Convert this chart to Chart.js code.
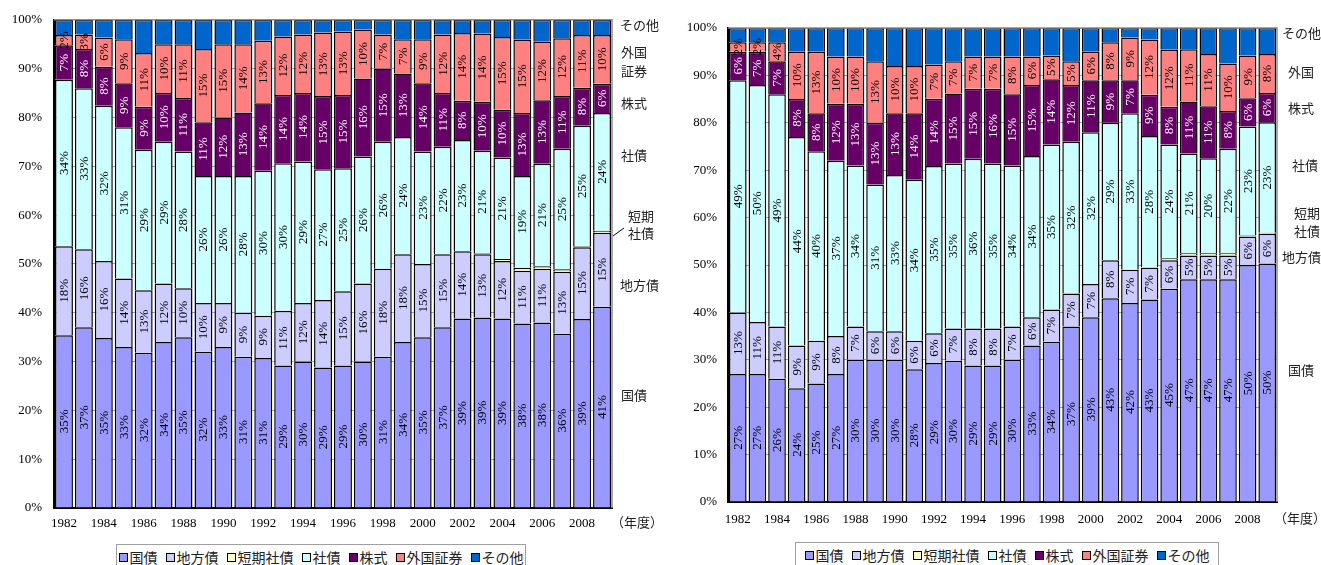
<!DOCTYPE html>
<html>
<head>
<meta charset="utf-8">
<script src="https://cdn.jsdelivr.net/npm/chart.js@4.4.0/dist/chart.umd.min.js"></script>
<style>
  html, body { margin: 0; padding: 0; background: #fff; }
  body { width: 1321px; height: 565px; overflow: hidden; position: relative; font-family: "Noto Sans CJK JP", sans-serif; }
  .panel { position: absolute; top: 0; }
  .legend { position: absolute; height: 26px; border: 1px solid #a0a0a0; background: #fff; box-sizing: border-box;
            display: flex; align-items: center; justify-content: center; white-space: nowrap; font-size: 14px; color: #222; }
  .legend .item { display: inline-flex; align-items: center; margin: 0 4px; }
  .legend .sw { display: inline-block; width: 7px; height: 7px; border: 1px solid #000; margin-right: 2px; }
</style>
</head>
<body>
<div class="panel" style="left:0px"><canvas id="chartA" width="680" height="540"></canvas></div>
<div class="panel" style="left:680px"><canvas id="chartB" width="641" height="540"></canvas></div>
<div class="legend" id="legendA" style="left:116px; top:544px; width:410px;"></div>
<div class="legend" id="legendB" style="left:795px; top:542px; width:424px;"></div>
<script>
// Fiscal years on the category axis
const years = [1982, 1983, 1984, 1985, 1986, 1987, 1988, 1989, 1990, 1991, 1992, 1993, 1994, 1995,
               1996, 1997, 1998, 1999, 2000, 2001, 2002, 2003, 2004, 2005, 2006, 2007, 2008, 2009];

// Asset classes, bottom to top of each bar
const seriesNames = ['国債', '地方債', '短期社債', '社債', '株式', '外国証券', 'その他'];
const seriesColors = ['#9999FF', '#CCCCFF', '#FFFFCC', '#CCFFFF', '#660066', '#FF8080', '#0066CC'];

// Y axis ticks (percent of total)
const yTicks = [0, 10, 20, 30, 40, 50, 60, 70, 80, 90, 100];

// ---- Portfolio A (left) : shares in %, by fiscal year ----
const aGovBonds       = [35.4, 37, 34.8, 33, 31.8, 34, 35, 32, 33, 31, 30.7, 29.2, 30, 28.8, 29.2, 30, 31, 34, 35, 37, 38.8, 39, 38.8, 37.8, 38, 35.7, 38.7, 41.2];
const aLocalBonds     = [18.2, 16, 15.8, 14, 12.8, 12, 10, 10, 9, 9, 8.7, 11.2, 12, 13.8, 15.2, 16, 18, 18, 15, 15, 13.8, 13, 11.8, 10.8, 11, 12.7, 14.7, 15.2];
const aShortCorpBonds = [null, null, null, null, null, null, null, null, null, null, null, null, null, null,
                         null, null, null, null, null, null, null, 0.2, 0.4, 0.6, 0.5, 0.5, 0.2, 0.4];
const aCorpBonds      = [34.1, 33, 31.8, 31, 28.8, 29, 28, 26, 26, 28, 29.7, 30.2, 29, 26.8, 25.2, 26, 26, 24, 23, 22, 22.8, 21, 20.8, 18.8, 21, 24.7, 24.7, 24.1];
const aStocks         = [7.1, 8, 8, 9, 8.8, 10, 11, 11, 12, 13, 13.8, 14, 14, 15, 15, 16, 15, 13, 14, 11, 8, 10, 9.8, 12.9, 13, 10.8, 7.8, 6];
const aForeign        = [2.1, 3, 6, 9, 11, 10, 11, 15, 15, 14, 12.8, 12, 12, 13, 13, 10, 7, 7, 9, 12, 13.9, 14, 14.9, 15, 12, 11.8, 10.8, 10];
const aOther          = [3.1, 3, 3.6, 4, 6.8, 5, 5, 6, 5, 5, 4.3, 3.4, 3, 2.6, 2.4, 2, 3, 4, 4, 3, 2.7, 2.8, 3.5, 4.1, 4.5, 3.8, 3.1, 3.1];

// ---- Portfolio B (right) : shares in %, by fiscal year ----
const bGovBonds       = [27, 27, 26, 24, 25, 27, 30, 30, 30, 28, 29.3, 29.8, 28.8, 28.8, 30, 33, 33.8, 37, 39, 43, 42, 42.7, 45, 47, 47, 47, 50, 50.3];
const bLocalBonds     = [13, 11, 11, 9, 9, 8, 7, 6, 6, 6, 6.3, 6.8, 7.8, 7.8, 7, 6, 6.8, 7, 7, 8, 7, 6.7, 6, 5, 5, 5, 6, 6.3];
const bShortCorpBonds = [null, null, null, null, null, null, null, null, null, null, null, null, null, null,
                         null, null, null, null, null, null, null, 0.1, 0.4, 0.5, 0.5, 0.5, 0.2, 0.2];
const bCorpBonds      = [49, 50, 49, 44, 40, 37, 34, 31, 33, 34, 35.3, 34.8, 35.8, 34.8, 34, 34, 34.8, 32, 32, 29, 33, 27.7, 24, 21, 20, 22, 23, 23.3];
const bStocks         = [6, 7, 7, 8, 8, 12, 13, 13, 13, 14, 14.2, 14.8, 14.8, 15.8, 15, 15, 13.8, 12, 11, 9, 7, 8.7, 8, 11, 11, 8, 6, 6.2];
const bForeign        = [2, 2, 4, 10, 13, 10, 10, 13, 10, 10, 7.2, 6.8, 6.8, 6.8, 8, 6, 5, 5, 6, 8, 9, 11.7, 12, 11, 11, 10, 9, 8.2];
const bOther          = [3, 3, 3, 5, 5, 6, 6, 7, 8, 8, 7.7, 7, 6, 6, 6, 6, 5.8, 7, 5, 3, 2, 2.4, 4.6, 4.5, 5.5, 7.5, 5.8, 5.5];

const NUM_FONT = '"Liberation Serif", "Times New Roman", serif';
const JP_FONT = '"Noto Sans CJK JP", sans-serif';

function buildDatasets(cols) {
  return cols.map((data, i) => ({
    label: seriesNames[i],
    data: data,
    backgroundColor: seriesColors[i],
    borderColor: '#000',
    borderWidth: 1.5,
    barPercentage: 0.9,
    categoryPercentage: 1.0,
    showLabels: i !== 2 && i !== 6,
    labelColor: i === 4 ? '#fff' : '#000'
  }));
}

// Rotated percentage labels centred in each segment
const segmentLabels = {
  id: 'segmentLabels',
  afterDatasetsDraw(chart) {
    const ctx = chart.ctx;
    chart.data.datasets.forEach((ds, di) => {
      if (!ds.showLabels) return;
      const meta = chart.getDatasetMeta(di);
      meta.data.forEach((bar, i) => {
        const v = ds.data[i];
        if (v == null || v < 1.5) return;
        const cy = (bar.y + bar.base) / 2;
        ctx.save();
        ctx.translate(bar.x + 0.5, cy);
        ctx.rotate(-Math.PI / 2);
        ctx.font = '13px ' + NUM_FONT;
        ctx.fillStyle = ds.labelColor;
        ctx.textAlign = 'center';
        ctx.textBaseline = 'middle';
        ctx.fillText(Math.round(v) + '%', 0, 0);
        ctx.restore();
      });
    });
  }
};

// Grey frame on the top and right of the plot area, side captions
const frameAndNotes = {
  id: 'frameAndNotes',
  afterDraw(chart, args, opts) {
    const ctx = chart.ctx;
    const a = chart.chartArea;
    ctx.save();
    ctx.strokeStyle = '#8c8c8c';
    ctx.lineWidth = 1.5;
    ctx.beginPath();
    ctx.moveTo(a.left, a.top);
    ctx.lineTo(a.right, a.top);
    ctx.lineTo(a.right, a.bottom);
    ctx.stroke();

    ctx.fillStyle = '#222';
    ctx.font = '13px ' + JP_FONT;
    ctx.textAlign = 'left';
    ctx.textBaseline = 'middle';
    (opts.notes || []).forEach(n => ctx.fillText(n.text, n.x, n.y));
    if (opts.leader) {
      ctx.strokeStyle = '#000';
      ctx.lineWidth = 1;
      ctx.beginPath();
      ctx.moveTo(opts.leader[0], opts.leader[1]);
      ctx.lineTo(opts.leader[2], opts.leader[3]);
      ctx.stroke();
    }
    ctx.restore();
  }
};

function makeChart(id, cols, geom, notes, leader) {
  return new Chart(document.getElementById(id), {
    type: 'bar',
    data: { labels: years, datasets: buildDatasets(cols) },
    plugins: [segmentLabels, frameAndNotes],
    options: {
      responsive: false,
      animation: false,
      devicePixelRatio: 1,
      layout: { padding: { left: 0, top: geom.top, right: geom.right, bottom: 0 } },
      plugins: {
        legend: { display: false },
        tooltip: { enabled: false },
        frameAndNotes: { notes: notes, leader: leader }
      },
      scales: {
        x: {
          stacked: true,
          grid: { display: false, drawTicks: false },
          border: { display: true, color: '#000', width: 2 },
          afterFit: s => { s.height = geom.xh; },
          ticks: {
            autoSkip: false, maxRotation: 0, minRotation: 0, padding: geom.xpad,
            color: '#000', font: { family: NUM_FONT, size: 13 },
            callback: function (v, i) { const y = years[i]; return y % 2 === 0 ? String(y) : ''; }
          }
        },
        y: {
          stacked: true,
          min: 0, max: 100,
          afterBuildTicks: s => { s.ticks = yTicks.map(v => ({ value: v })); },
          afterFit: s => { s.width = geom.yw; },
          grid: { color: '#a6a6a6', lineWidth: 1, drawTicks: false },
          border: { display: true, color: '#000', width: 2 },
          ticks: {
            padding: geom.ypad, color: '#000', font: { family: NUM_FONT, size: 13 },
            callback: v => v + '%'
          }
        }
      }
    }
  });
}

// Left panel
makeChart('chartA',
  [aGovBonds, aLocalBonds, aShortCorpBonds, aCorpBonds, aStocks, aForeign, aOther],
  { top: 19, right: 68, xh: 32, xpad: 8, yw: 54, ypad: 12 },
  [
    { text: 'その他', x: 620, y: 25 },
    { text: '外国', x: 621, y: 52 }, { text: '証券', x: 621, y: 71 },
    { text: '株式', x: 621, y: 103 },
    { text: '社債', x: 621, y: 155 },
    { text: '短期', x: 628, y: 216 }, { text: '社債', x: 628, y: 233 },
    { text: '地方債', x: 620, y: 285 },
    { text: '国債', x: 621, y: 395 },
    { text: '（年度）', x: 611, y: 522 }
  ],
  [613, 236, 624, 228]
);

// Right panel
makeChart('chartB',
  [bGovBonds, bLocalBonds, bShortCorpBonds, bCorpBonds, bStocks, bForeign, bOther],
  { top: 28, right: 44, xh: 38, xpad: 10, yw: 48, ypad: 11 },
  [
    { text: 'その他', x: 602, y: 33 },
    { text: '外国', x: 608, y: 72 },
    { text: '株式', x: 608, y: 108 },
    { text: '社債', x: 612, y: 165 },
    { text: '短期', x: 614, y: 213 }, { text: '社債', x: 614, y: 231 },
    { text: '地方債', x: 602, y: 257 },
    { text: '国債', x: 608, y: 370 },
    { text: '（年度）', x: 594, y: 518 }
  ],
  null
);

// Legends
['legendA', 'legendB'].forEach(id => {
  const box = document.getElementById(id);
  seriesNames.forEach((name, i) => {
    const item = document.createElement('span');
    item.className = 'item';
    const sw = document.createElement('span');
    sw.className = 'sw';
    sw.style.background = seriesColors[i];
    item.appendChild(sw);
    item.appendChild(document.createTextNode(name));
    box.appendChild(item);
  });
});
</script>
</body>
</html>
